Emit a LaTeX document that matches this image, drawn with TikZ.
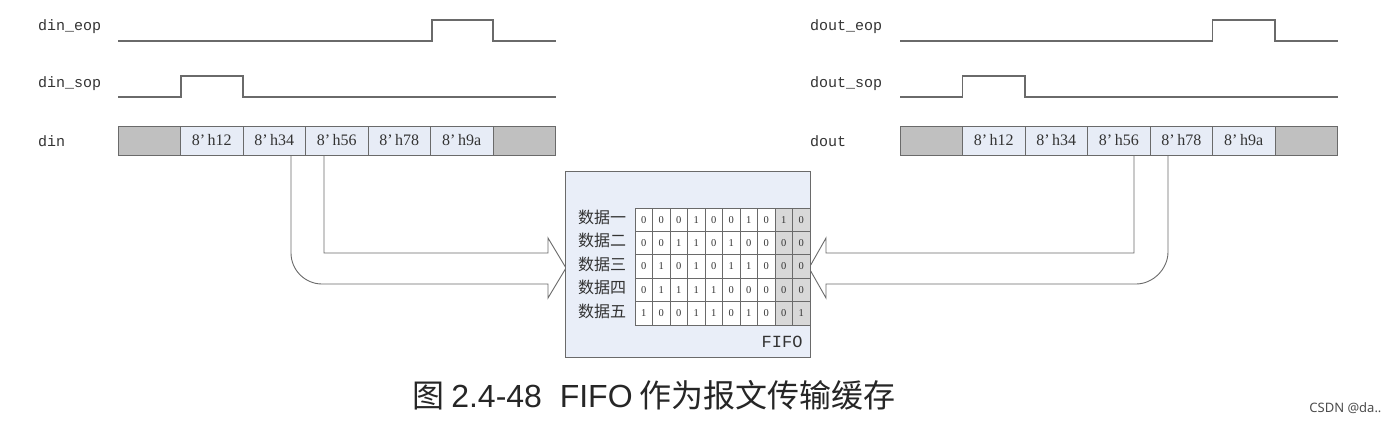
\documentclass[tikz,border=0pt]{standalone}
\usepackage{fontspec}
\setmainfont{Liberation Serif}
\newfontfamily\cjk{Noto Sans CJK SC}
\newfontfamily\monof{Liberation Mono}
\newfontfamily\notos{Noto Sans}
\newfontfamily\lsans{Liberation Sans}
\definecolor{linec}{HTML}{6A6A6A}
\definecolor{cellc}{HTML}{E7ECF6}
\definecolor{grayc}{HTML}{C0C0C0}
\definecolor{boxc}{HTML}{E9EEF8}
\definecolor{shadec}{HTML}{D8D8D8}
\definecolor{txtc}{HTML}{333333}
\begin{document}
\begin{tikzpicture}[x=1pt,y=-1pt,
  sig/.style={draw=linec,line width=1.1pt},
  lbl/.style={anchor=west,inner sep=0pt,text=txtc,font=\monof\fontsize{15}{15}\selectfont},
  buscell/.style={draw=linec,line width=1pt,fill=cellc},
  busgray/.style={draw=linec,line width=1pt,fill=grayc},
  celltxt/.style={text=txtc,font=\fontsize{16}{16}\selectfont},
  bigarrow/.style={draw=linec,line width=0.9pt,fill=white},
  tcell/.style={draw=linec,line width=0.7pt},
  tdig/.style={text=txtc,font=\fontsize{10.5}{10.5}\selectfont},
  rowlbl/.style={text=txtc,font=\cjk\fontsize{16}{16}\selectfont}]
\useasboundingbox (0,0) rectangle (1400,426);
% ---------- left waveforms ----------
\node[lbl] (ldeop) at (38,27) {din\_eop};
\node[lbl] (ldsop) at (38,84) {din\_sop};
\node[lbl] (ldin) at (38,141) {din};
\draw[sig] (118,41) -- (432,41) -- (432,20) -- (493,20) -- (493,41) -- (556,41);
\draw[sig] (118,97) -- (181,97) -- (181,76) -- (243,76) -- (243,97) -- (556,97);
% ---------- right waveforms ----------
\node[lbl] (lqeop) at (810,27) {dout\_eop};
\node[lbl] (lqsop) at (810,84) {dout\_sop};
\node[lbl] (lqout) at (810,141) {dout};
\draw[sig] (900,41) -- (1212.5,41) -- (1212.5,20) -- (1275,20) -- (1275,41) -- (1337.5,41);
\draw[sig] (900,97) -- (962.5,97) -- (962.5,76) -- (1025,76) -- (1025,97) -- (1337.5,97);
% ---------- big arrows ----------
\coordinate (a1) at (324,155);
\coordinate (a2) at (324,253);
\coordinate (a3) at (548,253);
\coordinate (a4) at (548,238);
\coordinate (a5) at (566,268);
\coordinate (a6) at (548,298);
\coordinate (a7) at (548,284);
\coordinate (a8) at (322,284);
\coordinate (a9) at (291,253);
\coordinate (a10) at (291,155);
\draw[bigarrow] (a1) -- (a2) -- (a3) -- (a4) -- (a5) -- (a6) -- (a7) -- (a8)
  .. controls (305,284) and (291,270) .. (a9) -- (a10);
\coordinate (b1) at (1134,155);
\coordinate (b2) at (1134,253);
\coordinate (b3) at (826,253);
\coordinate (b4) at (826,238);
\coordinate (b5) at (809,268);
\coordinate (b6) at (826,298);
\coordinate (b7) at (826,284);
\coordinate (b8) at (1136,284);
\coordinate (b9) at (1168,252);
\coordinate (b10) at (1168,155);
\draw[bigarrow] (b1) -- (b2) -- (b3) -- (b4) -- (b5) -- (b6) -- (b7) -- (b8)
  .. controls (1153,284) and (1168,269) .. (b9) -- (b10);
% ---------- buses ----------
\foreach \side/\x in {L/118,R/900}{
  \draw[busgray] (\x,126) rectangle ++(62.5,29);
  \draw[busgray] (\x+375,126) rectangle ++(62.5,29);
  \foreach \i/\t in {1/12,2/34,3/56,4/78,5/9a}{
    \draw[buscell] (\x+62.5*\i,126) rectangle ++(62.5,29);
    \node[celltxt] (c\side\i) at (\x+62.5*\i+31.25,140.5) {8’\,h\t};
  }
}
% ---------- FIFO box ----------
\draw[draw=linec,line width=1pt,fill=boxc] (565,171) rectangle (810,357);
\fill[white] (635,208) rectangle (775,325);
\fill[shadec] (775,208) rectangle (810,325);
\foreach \r/\lab/\bits [count=\ri from 0] in {
  1/一/{0,0,0,1,0,0,1,0,1,0},
  2/二/{0,0,1,1,0,1,0,0,0,0},
  3/三/{0,1,0,1,0,1,1,0,0,0},
  4/四/{0,1,1,1,1,0,0,0,0,0},
  5/五/{1,0,0,1,1,0,1,0,0,1}}{
  \node[rowlbl] (row\r) at (602,217.5+23.4*\ri) {数据\lab};
  \foreach \b [count=\ci from 0] in \bits {
    \draw[tcell] (635+17.5*\ci,208+23.4*\ri) rectangle ++(17.5,23.4);
    \node[tdig] (t\r-\ci) at (635+17.5*\ci+8.75,208+23.4*\ri+11.7) {\b};
  }
}
\node[text=txtc,font=\monof\fontsize{17}{17}\selectfont,anchor=east] (fifo) at (806,342) {FIFO};
% ---------- caption ----------
\node[text=black!85,font=\cjk\fontsize{32}{32}\selectfont,inner sep=0pt] (cap) at (654,395) {图 {\lsans 2.4-48\ \ FIFO} 作为报文传输缓存};
\node[text=black!70,font=\notos\fontsize{13}{13}\selectfont,anchor=east] (wm) at (1385,408) {CSDN @da..};
\end{tikzpicture}
\end{document}
